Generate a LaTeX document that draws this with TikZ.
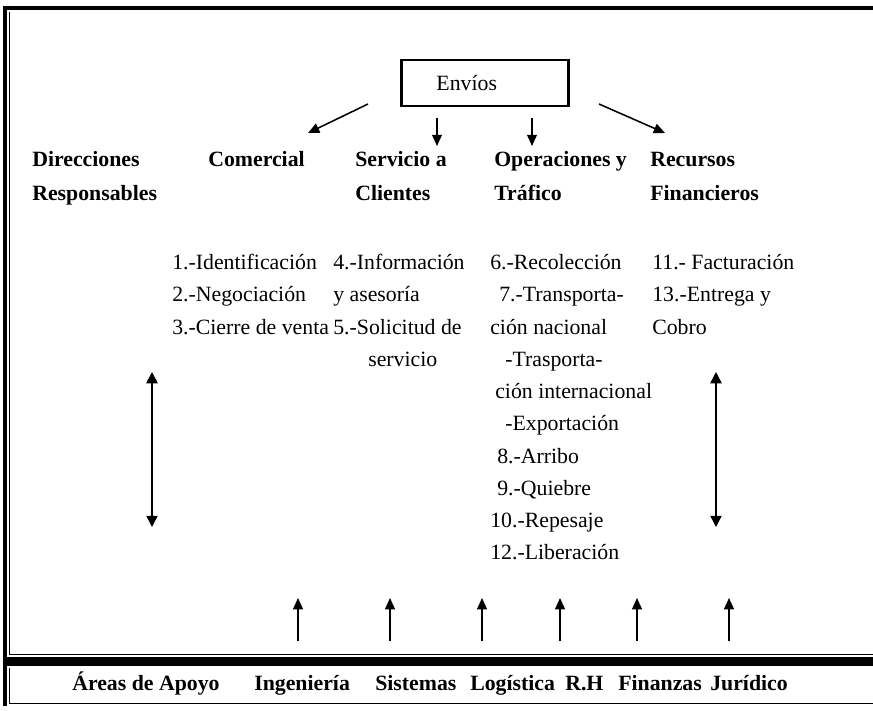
\documentclass[tikz,border=0pt]{standalone}
\usepackage{fontspec}
\setmainfont{Liberation Serif}
\usetikzlibrary{arrows.meta}

\begin{document}
\begin{tikzpicture}[
    x=0.025cm, y=-0.025cm,
    txt/.style={anchor=base west, inner sep=0pt, font=\fontsize{15.5}{18}\selectfont},
    head/.style={anchor=base west, inner sep=0pt, font=\fontsize{15.5}{18}\selectfont\bfseries},
    arrow/.style={-{Triangle[length=8pt,width=7pt]}, line width=1.1pt},
    darrow/.style={{Triangle[length=8pt,width=8pt]}-{Triangle[length=8pt,width=8pt]}, line width=1.1pt},
    frame/.style={line width=2.2pt},
    thin/.style={line width=0.7pt}
]
\useasboundingbox (0,0) rectangle (873,710);

% Frame of the upper part and the band of support areas
\draw[frame] (873,8) -- (5,8) -- (5,706);
\draw[thin] (9,12) -- (9,654) -- (873,654);
\fill (5,657) rectangle (873,666);
\draw[thin] (9,668) -- (9,703) -- (873,703);

% Top box
\node[draw, line width=1.6pt, minimum height=1.15cm, text width=2.425cm, inner xsep=0.875cm,
      align=left, font=\fontsize{15.5}{18}\selectfont] (envios) at (485,83) {Envíos};

\coordinate (l0) at (368,104);  \coordinate (l1) at (308,133);
\coordinate (s0) at (437,118);  \coordinate (s1) at (437,146);
\coordinate (o0) at (532,118);  \coordinate (o1) at (532,146);
\coordinate (r0) at (599,104);  \coordinate (r1) at (665,133);
\draw[arrow] (l0) -- (l1);
\draw[arrow] (s0) -- (s1);
\draw[arrow] (o0) -- (o1);
\draw[arrow] (r0) -- (r1);

% Headings
\node[head] (dir1) at (32,166) {Direcciones};
\node[head] (dir2) at (32,200) {Responsables};
\node[head] (com)  at (208,166) {Comercial};
\node[head] (ser1) at (355,166) {Servicio a};
\node[head] (ser2) at (355,200) {Clientes};
\node[head] (ope1) at (494,166) {Operaciones y};
\node[head] (ope2) at (494,200) {Tráfico};
\node[head] (rec1) at (650,166) {Recursos};
\node[head] (rec2) at (650,200) {Financieros};

% Activities
\node[txt] (c1) at (172,269) {1.-Identificación};
\node[txt] (c2) at (172,301) {2.-Negociación};
\node[txt] (c3) at (172,334) {3.-Cierre de venta};

\node[txt] (s1t) at (333,269) {4.-Información};
\node[txt] (s2t) at (333,301) {y asesoría};
\node[txt] (s3t) at (333,334) {5.-Solicitud de};
\node[txt] (s4t) at (368,366) {servicio};

\node[txt] (o1t)  at (490,269) {6.-Recolección};
\node[txt] (o2t)  at (499,301) {7.-Transporta-};
\node[txt] (o3t)  at (490,334) {ción nacional};
\node[txt] (o4t)  at (505,366) {-Trasporta-};
\node[txt] (o5t)  at (495,398) {ción internacional};
\node[txt] (o6t)  at (505,430) {-Exportación};
\node[txt] (o7t)  at (497,463) {8.-Arribo};
\node[txt] (o8t)  at (497,495) {9.-Quiebre};
\node[txt] (o9t)  at (490,527) {10.-Repesaje};
\node[txt] (o10t) at (490,559) {12.-Liberación};

\node[txt] (f1t) at (652,269) {11.- Facturación};
\node[txt] (f2t) at (652,301) {13.-Entrega y};
\node[txt] (f3t) at (652,334) {Cobro};

% Double arrows
\coordinate (la) at (152,372);  \coordinate (lb) at (152,527);
\coordinate (ra) at (716,372);  \coordinate (rb) at (716,527);
\draw[darrow] (la) -- (lb);
\draw[darrow] (ra) -- (rb);

% Support areas
\node[head] (apoyo) at (72,690)  {Áreas de Apoyo};
\node[head] (ing)   at (254,690) {Ingeniería};
\node[head] (sis)   at (375,690) {Sistemas};
\node[head] (log)   at (470,690) {Logística};
\node[head] (rh)    at (565,690) {R.H};
\node[head] (fin)   at (618,690) {Finanzas};
\node[head] (jur)   at (710,690) {Jurídico};

\foreach \x [count=\i] in {298,390,482,560,637,729} {
  \coordinate (u\i) at (\x,641);
  \coordinate (v\i) at (\x,598);
  \draw[arrow] (u\i) -- (v\i);
}

\end{tikzpicture}
\end{document}
